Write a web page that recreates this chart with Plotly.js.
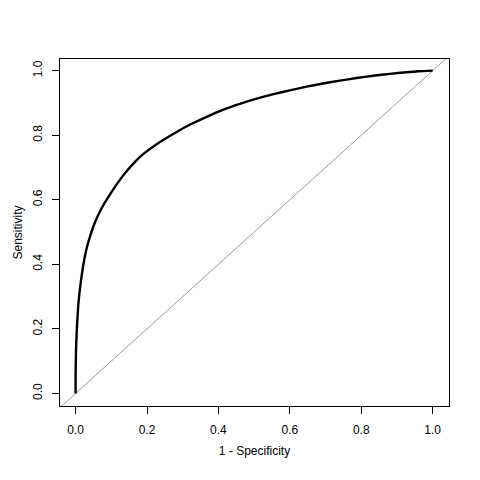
<!DOCTYPE html>
<html>
<head>
<meta charset="utf-8">
<script src="https://cdn.plot.ly/plotly-3.0.1.min.js"></script>
<style>html,body{margin:0;padding:0;background:#fff;}#chart{width:480px;height:480px;}</style>
</head>
<body>
<div id="chart"></div>
<script>
var fpr = [0, 0, 0.001, 0.002, 0.004, 0.008, 0.013, 0.021, 0.03, 0.041, 0.055, 0.074, 0.092, 0.106, 0.125, 0.144, 0.165, 0.19, 0.228, 0.283, 0.321, 0.367, 0.414, 0.46, 0.507, 0.554, 0.6, 0.65, 0.693, 0.74, 0.787, 0.833, 0.88, 0.926, 0.96, 1.0];
var tpr = [0, 0.05, 0.12, 0.16, 0.207, 0.279, 0.331, 0.393, 0.445, 0.488, 0.532, 0.576, 0.609, 0.633, 0.663, 0.69, 0.716, 0.742, 0.773, 0.81, 0.833, 0.857, 0.879, 0.897, 0.913, 0.927, 0.939, 0.951, 0.96, 0.969, 0.977, 0.984, 0.99, 0.995, 0.998, 1.0];
var diagX = [-0.1, 1.1];
var diagY = [-0.1, 1.1];
var tickVals = [0, 0.2, 0.4, 0.6, 0.8, 1.0];
var tickText = ["0.0", "0.2", "0.4", "0.6", "0.8", "1.0"];

var font = {family: "Liberation Sans, Arial, sans-serif", size: 12, color: "#000"};

var traces = [
  {x: diagX, y: diagY, mode: "lines", line: {color: "#9a9a9a", width: 1}, hoverinfo: "skip", showlegend: false},
  {x: fpr, y: tpr, mode: "lines", line: {color: "#000", width: 2.4, shape: "spline", smoothing: 0.6}, showlegend: false}
];

var axisCommon = {
  showgrid: false, zeroline: false, showline: true, mirror: true,
  linecolor: "#000", linewidth: 1, ticks: "outside", ticklen: 7, tickwidth: 1, tickcolor: "#000",
  tickmode: "array", tickvals: tickVals, ticktext: tickText, tickfont: font
};

var layout = {
  width: 480, height: 480,
  margin: {l: 60, r: 31, t: 59, b: 74},
  paper_bgcolor: "#fff", plot_bgcolor: "#fff",
  font: font,
  xaxis: Object.assign({}, axisCommon, {
    range: [-0.0436, 1.0456],
    ticklabelstandoff: 6,
    title: {text: "1 - Specificity", font: font, standoff: 10}
  }),
  yaxis: Object.assign({}, axisCommon, {
    range: [-0.039, 1.036],
    tickangle: -90,
    ticklabelstandoff: 5,
    title: {text: "Sensitivity", font: font, standoff: 6}
  })
};

Plotly.newPlot("chart", traces, layout, {staticPlot: true, displayModeBar: false});
</script>
</body>
</html>
